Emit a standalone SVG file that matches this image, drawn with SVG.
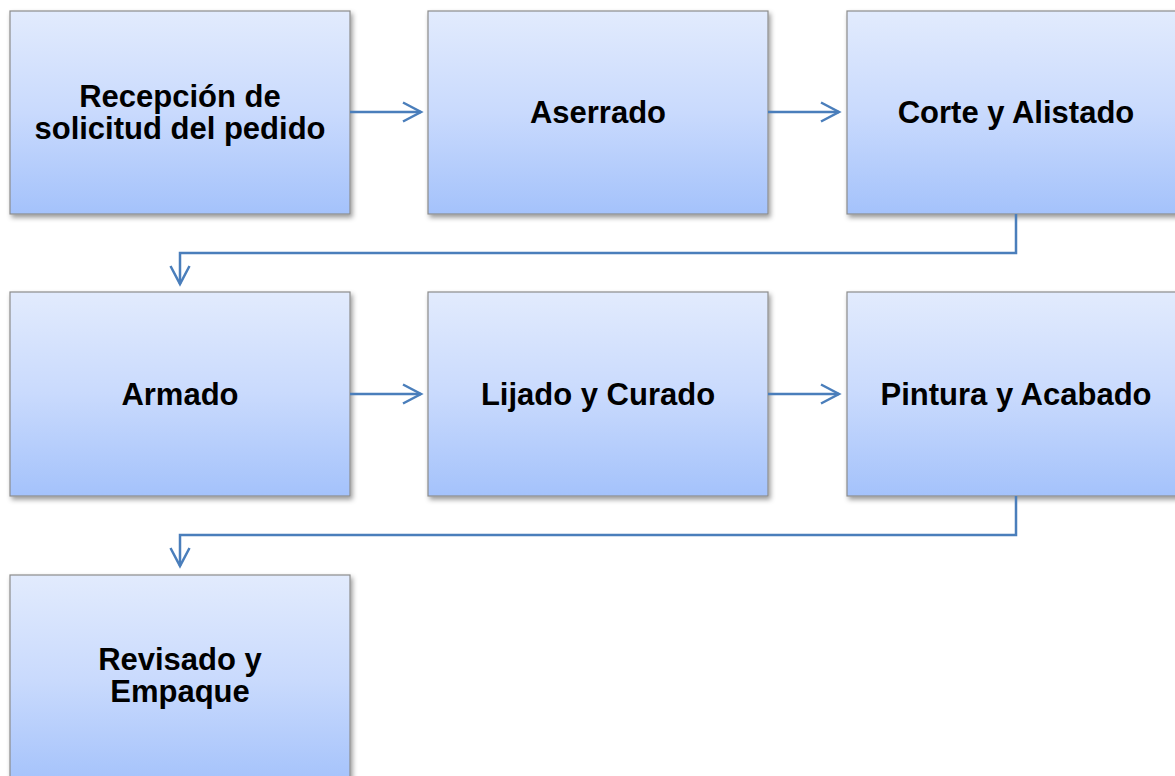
<svg xmlns="http://www.w3.org/2000/svg" width="1175" height="776" viewBox="0 0 1175 776">
<style>
.box{fill:url(#g);stroke:#8c8c8c;stroke-width:1.2;filter:url(#sh)}
.t{font-family:"Liberation Sans",Arial,sans-serif;font-weight:bold;font-size:31px;fill:#000;text-anchor:middle}
.c{fill:none;stroke:#4a7ebb;stroke-width:2.5}
</style>
<defs>
<linearGradient id="g" x1="0" y1="0" x2="0" y2="1">
<stop offset="0" stop-color="#e2ebfd"/>
<stop offset="0.5" stop-color="#c9dafd"/>
<stop offset="1" stop-color="#a4c2fb"/>
</linearGradient>
<filter id="sh" x="-10%" y="-10%" width="130%" height="130%">
<feDropShadow dx="2" dy="3" stdDeviation="2.5" flood-color="#000" flood-opacity="0.4"/>
</filter>
<marker id="ah" markerUnits="userSpaceOnUse" viewBox="-22 -12 26 24" refX="0" refY="0" markerWidth="26" markerHeight="24" orient="auto">
<path d="M-18,-9.5 L0,0 L-18,9.5" fill="none" stroke="#4a7ebb" stroke-width="2.5"/>
</marker>
</defs>
<g id="n1"><rect class="box" x="10" y="11" width="340" height="203"/><text class="t" x="180" y="107">Recepción de</text><text class="t" x="180" y="139">solicitud del pedido</text></g>
<g id="n2"><rect class="box" x="428" y="11" width="340" height="203"/><text class="t" x="598" y="123">Aserrado</text></g>
<g id="n3"><rect class="box" x="847" y="11" width="340" height="203"/><text class="t" x="1016" y="123">Corte y Alistado</text></g>
<g id="n4"><rect class="box" x="10" y="292" width="340" height="204"/><text class="t" x="180" y="405">Armado</text></g>
<g id="n5"><rect class="box" x="428" y="292" width="340" height="204"/><text class="t" x="598" y="405">Lijado y Curado</text></g>
<g id="n6"><rect class="box" x="847" y="292" width="340" height="204"/><text class="t" x="1016" y="405">Pintura y Acabado</text></g>
<g id="n7"><rect class="box" x="10" y="575" width="340" height="210"/><text class="t" x="180" y="670">Revisado y</text><text class="t" x="180" y="702">Empaque</text></g>
<g id="connectors">
<path class="c" d="M350,112 H421" marker-end="url(#ah)"/>
<path class="c" d="M768,112 H839" marker-end="url(#ah)"/>
<path class="c" d="M1016,214 V253 H180 V284" marker-end="url(#ah)"/>
<path class="c" d="M350,394 H421" marker-end="url(#ah)"/>
<path class="c" d="M768,394 H839" marker-end="url(#ah)"/>
<path class="c" d="M1016,496 V535 H180 V566" marker-end="url(#ah)"/>
</g>
</svg>
